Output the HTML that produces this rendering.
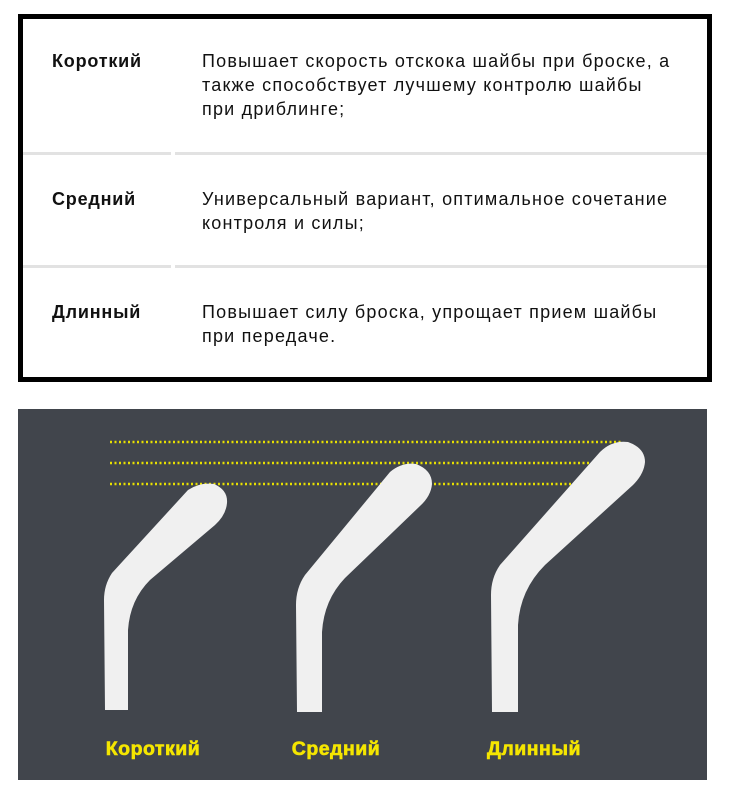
<!DOCTYPE html>
<html><head><meta charset="utf-8"><style>
body{margin:0;width:730px;height:796px;background:#fff;position:relative;font-family:"Liberation Sans","DejaVu Sans",sans-serif;overflow:hidden}
.box{position:absolute;left:18px;top:14px;width:684px;height:358px;border:5px solid #000}
.t{position:absolute;font-size:18px;color:#111;line-height:24px;letter-spacing:1.2px;white-space:nowrap}
.h{font-weight:bold;left:29px;font-size:18px;letter-spacing:0.8px}
.d{left:179px}
.div{position:absolute;height:3px;background:#e2e2e2;top:0}
.panel{position:absolute;left:18px;top:409px;width:689px;height:371px;background:#41454c}
</style></head><body>
<div class="box">
 <div class="t h" style="top:30px">Короткий</div>
 <div class="t d" style="top:30px">Повышает скорость отскока шайбы при броске, а<br>также способствует лучшему контролю шайбы<br>при дриблинге;</div>
 <div class="div" style="left:0;width:148px;top:133px"></div>
 <div class="div" style="left:152px;width:532px;top:133px"></div>
 <div class="t h" style="top:168px">Средний</div>
 <div class="t d" style="top:168px">Универсальный вариант, оптимальное сочетание<br>контроля и силы;</div>
 <div class="div" style="left:0;width:148px;top:246px"></div>
 <div class="div" style="left:152px;width:532px;top:246px"></div>
 <div class="t h" style="top:281px">Длинный</div>
 <div class="t d" style="top:281px">Повышает силу броска, упрощает прием шайбы<br>при передаче.</div>
</div>
<div class="panel"></div>
<svg width="730" height="796" style="position:absolute;left:0;top:0">
 <g stroke="#e8e000" stroke-width="2.5" stroke-dasharray="2 2.5">
  <line x1="110" y1="442" x2="622" y2="442"/>
  <line x1="110" y1="463" x2="605" y2="463"/>
  <line x1="110" y1="484" x2="605" y2="484"/>
 </g>
 <g fill="#f0f0f0">
  <path d="M105 710 L104 600 Q104 585 112 573 L188 490 Q200 482 214 484 Q228 490 227 503 Q226 515 215 525 L150 580 Q130 600 128 630 L128 710 Z"/>
  <path d="M297 712 L296 605 Q296 588 305 575 L390 472 Q402 462 416 464 Q432 470 432 484 Q431 496 420 506 L345 578 Q324 600 322 632 L322 712 Z"/>
  <path d="M492 712 L491 595 Q491 578 500 565 L600 452 Q612 440 628 442 Q645 448 645 462 Q644 474 633 485 L545 565 Q520 590 518 625 L518 712 Z"/>
 </g>
 <g fill="#f5e600" stroke="#f5e600" stroke-width="0.6" font-weight="bold" font-size="19.5" letter-spacing="0.5" font-family="Liberation Sans, DejaVu Sans, sans-serif" text-anchor="middle">
  <text x="153" y="755">Короткий</text>
  <text x="336" y="755">Средний</text>
  <text x="534" y="755">Длинный</text>
 </g>
</svg>
</body></html>
